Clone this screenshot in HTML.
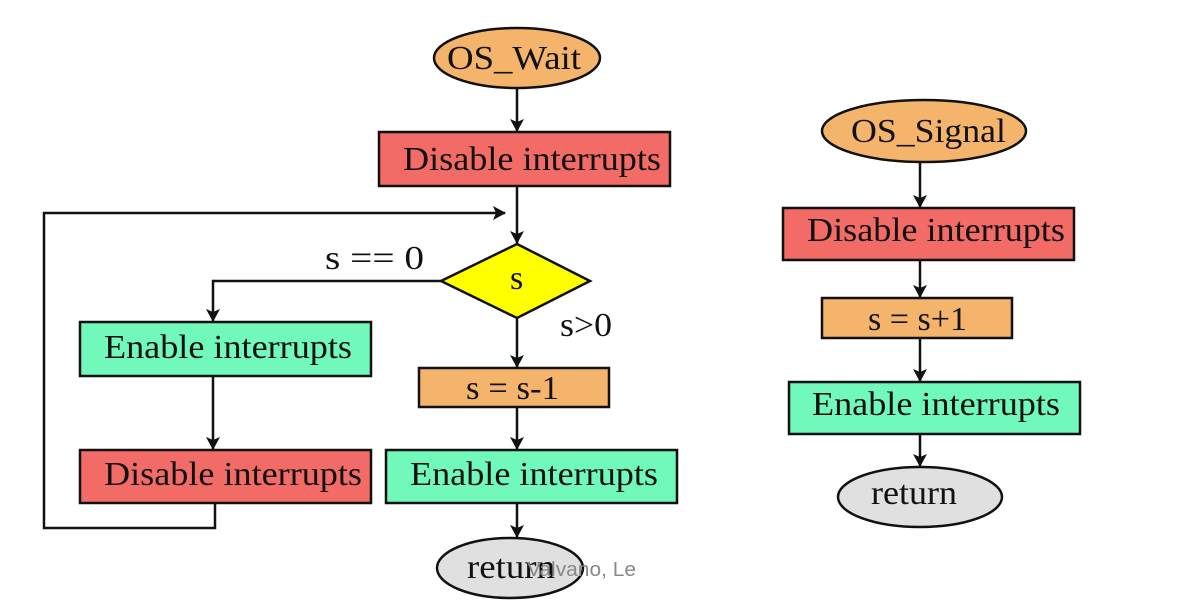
<!DOCTYPE html>
<html><head><meta charset="utf-8"><style>
html,body{margin:0;padding:0;background:#fff;}
svg{display:block}
text{font-family:"Liberation Serif",serif;font-size:34px;fill:#111;}
</style></head><body>
<svg width="1180" height="614" viewBox="0 0 1180 614" xmlns="http://www.w3.org/2000/svg">
<defs><marker id="a" markerWidth="14" markerHeight="14" refX="12" refY="7" orient="auto" markerUnits="userSpaceOnUse"><path d="M0,0 L13,7 L0,14 L3,7 Z" fill="#111"/></marker></defs>
<g stroke="#111" stroke-width="2.5" fill="none">
<line x1="517" y1="88" x2="517" y2="131" marker-end="url(#a)"/>
<line x1="517" y1="186" x2="517" y2="243" marker-end="url(#a)"/>
<polyline points="215,504 215,528 44,528 44,213 505,213" marker-end="url(#a)"/>
<polyline points="441,281 213,281 213,321" marker-end="url(#a)"/>
<line x1="213" y1="376" x2="213" y2="449" marker-end="url(#a)"/>
<line x1="517" y1="318" x2="517" y2="367" marker-end="url(#a)"/>
<line x1="517" y1="407" x2="517" y2="449" marker-end="url(#a)"/>
<line x1="517" y1="503" x2="517" y2="537" marker-end="url(#a)"/>
<line x1="920" y1="162" x2="920" y2="207" marker-end="url(#a)"/>
<line x1="920" y1="260" x2="920" y2="297" marker-end="url(#a)"/>
<line x1="920" y1="338" x2="920" y2="381" marker-end="url(#a)"/>
<line x1="920" y1="434" x2="920" y2="466" marker-end="url(#a)"/>
</g>
<g stroke="#111" stroke-width="2.5">
<ellipse cx="517" cy="58" rx="83" ry="30" fill="#f5b46c"/>
<rect x="379" y="132" width="291" height="54" fill="#f26b66"/>
<polygon points="517,244 590,281 517,318 441,281" fill="#ffff00"/>
<rect x="80" y="322" width="291" height="54" fill="#70f9bb"/>
<rect x="80" y="450" width="291" height="53" fill="#f26b66"/>
<rect x="419" y="368" width="190" height="39" fill="#f5b46c"/>
<rect x="386" y="450" width="291" height="53" fill="#70f9bb"/>
<ellipse cx="510" cy="568" rx="73" ry="30" fill="#e0e0e0"/>
<ellipse cx="924" cy="131" rx="102" ry="31" fill="#f5b46c"/>
<rect x="783" y="208" width="291" height="52" fill="#f26b66"/>
<rect x="822" y="298" width="190" height="40" fill="#f5b46c"/>
<rect x="789" y="382" width="291" height="52" fill="#70f9bb"/>
<ellipse cx="920" cy="497" rx="82" ry="30" fill="#e0e0e0"/>
</g>
<g lengthAdjust="spacingAndGlyphs">
<text x="447" y="69" textLength="134" lengthAdjust="spacingAndGlyphs">OS_Wait</text>
<text x="403" y="170" textLength="258" lengthAdjust="spacingAndGlyphs">Disable interrupts</text>
<text x="510" y="289" font-size="26">s</text>
<text x="104" y="358" textLength="248" lengthAdjust="spacingAndGlyphs">Enable interrupts</text>
<text x="104" y="485" textLength="258" lengthAdjust="spacingAndGlyphs">Disable interrupts</text>
<text x="466" y="399" textLength="93" lengthAdjust="spacingAndGlyphs">s = s-1</text>
<text x="410" y="485" textLength="248" lengthAdjust="spacingAndGlyphs">Enable interrupts</text>
<text x="467" y="578" textLength="88" lengthAdjust="spacingAndGlyphs">return</text>
<text x="851" y="142" textLength="155" lengthAdjust="spacingAndGlyphs">OS_Signal</text>
<text x="807" y="241" textLength="258" lengthAdjust="spacingAndGlyphs">Disable interrupts</text>
<text x="868" y="330" textLength="99" lengthAdjust="spacingAndGlyphs">s = s+1</text>
<text x="812" y="415" textLength="248" lengthAdjust="spacingAndGlyphs">Enable interrupts</text>
<text x="871" y="504" textLength="86" lengthAdjust="spacingAndGlyphs">return</text>
<text x="325" y="269" font-size="30" textLength="99" lengthAdjust="spacingAndGlyphs">s == 0</text>
<text x="560" y="336" font-size="30" textLength="52" lengthAdjust="spacingAndGlyphs">s&gt;0</text>
</g>
<text x="527" y="576" textLength="109" lengthAdjust="spacingAndGlyphs" style="font-family:'Liberation Sans',sans-serif;font-size:20px;fill:#888;">Valvano, Le</text>
</svg>
</body></html>
